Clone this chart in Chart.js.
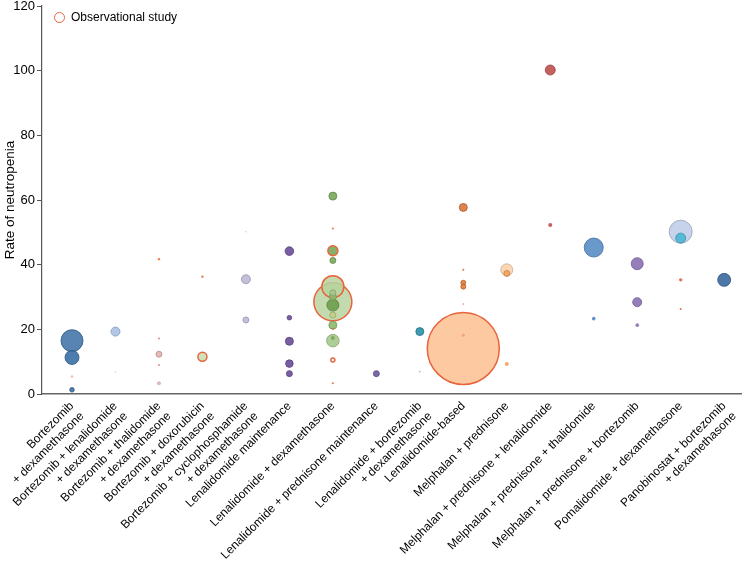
<!DOCTYPE html>
<html>
<head>
<meta charset="utf-8">
<script src="https://cdn.jsdelivr.net/npm/chart.js@4.4.1/dist/chart.umd.min.js"></script>
<style>
    html, body { margin: 0; padding: 0; background: #ffffff; }
    #wrap { position: relative; width: 742px; height: 566px; }
    #legend { position: absolute; left: 54px; top: 10px; font: 12px 'Liberation Sans', Arial, sans-serif; color: #000; }
    #legend span.dot { display: inline-block; width: 9px; height: 9px; border: 1.5px solid #e8643c; border-radius: 50%;
        vertical-align: -2px; margin-right: 6px; }
</style>
</head>
<body>
<div id="wrap">
    <canvas id="neutropenia_bubble_chart"></canvas>
    <div id="legend"><span class="dot"></span>Observational study</div>
</div>
<script>
// Treatment regimens along the x axis (multi-line labels are arrays).
var categories = [
    ["Bortezomib", "+ dexamethasone"],
    ["Bortezomib + lenalidomide", "+ dexamethasone"],
    ["Bortezomib + thalidomide", "+ dexamethasone"],
    ["Bortezomib + doxorubicin", "+ dexamethasone"],
    ["Bortezomib + cyclophosphamide", "+ dexamethasone"],
    "Lenalidomide maintenance",
    "Lenalidomide + dexamethasone",
    "Lenalidomide + prednisone maintenance",
    ["Lenalidomide + bortezomib", "+ dexamethasone"],
    "Lenalidomide-based",
    "Melphalan + prednisone",
    "Melphalan + prednisone + lenalidomide",
    "Melphalan + prednisone + thalidomide",
    "Melphalan + prednisone + bortezomib",
    "Pomalidomide + dexamethasone",
    ["Panobinostat + bortezomib", "+ dexamethasone"]
];

var yTicks = [0, 20, 40, 60, 80, 100, 120];

// One entry per study: regimen index, rate of neutropenia, bubble size (study weight).
var studyCat = [0, 0, 0, 0,
    1, 1,
    2, 2, 2, 2, 2,
    3, 3,
    4, 4, 4,
    5, 5, 5, 5, 5,
    6, 6, 6, 6, 6, 6, 6, 6, 6, 6, 6, 6, 6, 6, 6, 6,
    7,
    8, 8,
    9, 9, 9, 9, 9, 9, 9,
    10, 10, 10,
    11, 11,
    12, 12,
    13, 13, 13,
    14, 14, 14, 14,
    15];
var studyRate = [16.5, 11.3, 5.4, 1.3,
    19.3, 6.9,
    41.7, 17.2, 12.3, 9.0, 3.3,
    36.3, 11.5,
    50.2, 35.5, 22.9,
    44.2, 23.6, 16.3, 9.4, 6.3,
    61.2, 51.2, 44.3, 41.3, 33.2, 28.5, 31.3, 30.1, 27.5, 24.4, 21.3, 20.1, 16.5, 17.3, 10.5, 3.3,
    6.3,
    19.3, 6.9,
    57.7, 38.4, 34.4, 33.2, 27.8, 14.1, 18.2,
    38.4, 37.3, 9.3,
    100.2, 52.3,
    45.3, 23.3,
    40.3, 28.4, 21.3,
    50.2, 48.2, 35.3, 26.3,
    35.3];
var studySize = [11, 7, 1.2, 2.3,
    4.5, 0.8,
    1.2, 1, 3, 1, 2,
    1.2, 4.5,
    0.7, 4.5, 3,
    4.3, 2.3, 4, 3.8, 3,
    4, 1, 5, 3, 11, 19, 3, 3.5, 6, 3, 4, 1, 6.3, 2, 2, 1,
    3,
    4, 0.8,
    4, 1, 2.5, 2.5, 0.8, 36, 1.5,
    6, 3, 2,
    5, 2,
    9.5, 1.8,
    6, 4.5, 1.8,
    11.5, 5, 1.7, 1,
    6.5];
var observational = [0, 0, 0, 0,
    0, 0,
    0, 0, 0, 0, 0,
    0, 1,
    0, 0, 0,
    0, 0, 0, 0, 0,
    0, 0, 1, 0, 1, 1, 0, 0, 0, 0, 0, 0, 0, 0, 1, 0,
    0,
    0, 0,
    0, 0, 0, 0, 0, 1, 0,
    0, 0, 0,
    0, 0,
    0, 0,
    0, 0, 0,
    0, 0, 0, 0,
    0];

// Fill colour of each study bubble.
var studyFill = ["#3a6ea5", "#3a6ea5", "#f3b3a3", "#3a6ea5",
    "#a9c1e2", "#f0c8c8",
    "#e8703c", "#e27a72", "#e6b0b0", "#e27a72", "#d9b3bd",
    "#e8703c", "#c9dfb3",
    "#f3b89a", "#bcbad6", "#bcbad6",
    "#6b4c9a", "#6b4c9a", "#6b4c9a", "#6b4c9a", "#6b4c9a",
    "#79a85a", "#e8643c", "#79a85a", "#79a85a", "#b7d39f", "#b7d39f", "#a6c98c", "#8bb86c", "#6f9f4f", "#c3cf88", "#8bb86c", "#e8643c", "#a6c98c", "#79a85a", "#ffffff", "#e8643c",
    "#6d5aa0",
    "#2b8fa8", "#9b90b8",
    "#d9763a", "#e0603c", "#e07a3a", "#e07a3a", "#e8806a", "#fbbf8f", "#f0a070",
    "#fbd3ae", "#f5a05a", "#f5a05a",
    "#c0504d", "#c0504d",
    "#4f87c2", "#4f87c2",
    "#8a70b4", "#8a70b4", "#8a70b4",
    "#bccbe8", "#4cb7d4", "#e0603c", "#e0603c",
    "#38689c"];

var obsColor = "#e8643c";

// Draw the large bubbles first so that small studies stay on top.
function buildPoints() {
    var pts = [];
    for (var i = 0; i < studyRate.length; i++) {
        pts.push({x: studyCat[i], y: studyRate[i], r: studySize[i],
            fill: studyFill[i], obs: observational[i] == 1});
    }
    pts.sort(function (a, b) { return b.r - a.r; });
    return pts;
}

function darker(hex) {
    var n = parseInt(hex.slice(1), 16);
    var r = Math.round(((n >> 16) & 255) * 0.8);
    var g = Math.round(((n >> 8) & 255) * 0.8);
    var b = Math.round((n & 255) * 0.8);
    return "rgb(" + r + "," + g + "," + b + ")";
}

function alpha(hex, a) {
    var n = parseInt(hex.slice(1), 16);
    return "rgba(" + ((n >> 16) & 255) + "," + ((n >> 8) & 255) + "," + (n & 255) + "," + a + ")";
}

function createChart() {
    var points = buildPoints();
    var ctx = document.getElementById("neutropenia_bubble_chart").getContext('2d');
    Chart.defaults.font.family = "'Liberation Sans', Arial, sans-serif";
    Chart.defaults.font.size = 12;
    Chart.defaults.color = "#000";

    new Chart(ctx, {
        type: 'bubble',
        data: {
            datasets: [{
                label: "Studies",
                data: points,
                backgroundColor: function (c) { return alpha(c.raw.fill, c.raw.r > 8 ? 0.85 : 0.9); },
                borderColor: function (c) { return c.raw.obs ? obsColor : darker(c.raw.fill); },
                borderWidth: function (c) { return c.raw.obs ? 1.5 : (c.raw.r > 2 ? 0.8 : 0); },
                hoverRadius: 0,
                clip: false
            }]
        },
        options: {
            responsive: true,
            maintainAspectRatio: false,
            animation: false,
            events: [],
            layout: {autoPadding: false, padding: {top: 0, right: 0, left: 0, bottom: 0}},
            plugins: {
                tooltip: {enabled: false},
                legend: {display: false}
            },
            scales: {
                x: {
                    type: 'linear',
                    min: -0.69,
                    max: 15.41,
                    afterBuildTicks: function (scale) {
                        scale.ticks = categories.map(function (c, i) { return {value: i}; });
                    },
                    afterFit: function (scale) {
                        scale.height = 172;
                        scale.paddingLeft = 0;
                        scale.paddingRight = 0;
                    },
                    grid: {display: false, drawTicks: true, tickLength: 3},
                    border: {color: "#666", width: 1.5},
                    ticks: {
                        autoSkip: false,
                        minRotation: 45,
                        maxRotation: 45,
                        padding: 2,
                        font: {size: 12},
                        callback: function (v) { return categories[v]; }
                    }
                },
                y: {
                    min: 0,
                    max: 120,
                    afterBuildTicks: function (scale) {
                        scale.ticks = yTicks.map(function (v) { return {value: v}; });
                    },
                    afterFit: function (scale) {
                        scale.width = 42;
                        scale.paddingTop = 6;
                    },
                    grid: {drawOnChartArea: false, drawTicks: true, tickLength: 5, color: "#555"},
                    border: {color: "#555", width: 1.2},
                    ticks: {padding: 2, font: {size: 13}},
                    title: {display: true, text: "Rate of neutropenia", font: {size: 13.5}, padding: {top: 2, bottom: 0}}
                }
            }
        }
    });
}

createChart();
</script>
</body>
</html>
